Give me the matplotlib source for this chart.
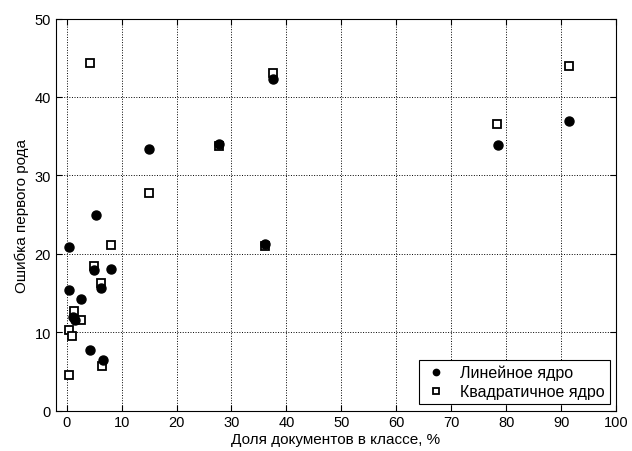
import numpy as np
import matplotlib
matplotlib.use('Agg')
import matplotlib.pyplot as plt

plt.rcParams['font.family'] = ['Liberation Sans', 'DejaVu Sans']

# linear kernel: share of documents in class (%), type I error
lin_x = [0.4, 0.4, 2.6, 1.2, 1.6, 4.2, 6.6, 8.1, 6.25, 4.9, 5.3, 15.0, 27.8, 37.6, 36.1, 78.5, 91.4]
lin_y = [20.9, 15.4, 14.2, 11.9, 11.6, 7.7, 6.4, 18.1, 15.6, 17.9, 24.9, 33.4, 34.0, 42.3, 21.2, 33.9, 36.9]

# quadratic kernel
quad_x = [5.0, 6.2, 8.1, 1.4, 2.6, 0.4, 0.9, 6.5, 0.4, 4.2, 15.0, 27.8, 37.6, 36.1, 78.4, 91.4]
quad_y = [18.5, 16.3, 21.1, 12.7, 11.6, 10.3, 9.55, 5.7, 4.5, 44.4, 27.8, 33.8, 43.1, 21.0, 36.6, 44.0]

xticks = np.arange(0, 101, 10)
yticks = np.arange(0, 51, 10)

fig = plt.figure(figsize=(6.32, 4.52), dpi=100)
ax = fig.add_axes([0.088, 0.0896, 0.887, 0.867])

ax.plot(quad_x, quad_y, 's', markerfacecolor='white', markeredgecolor='black',
        markeredgewidth=1.3, markersize=5.5, linestyle='none',
        label='Квадратичное ядро', zorder=3)
ax.plot(lin_x, lin_y, 'o', color='black', markersize=6.5, linestyle='none',
        label='Линейное ядро', zorder=4)

ax.set_xlim(-2, 100)
ax.set_ylim(0, 50)
ax.set_xticks(xticks)
ax.set_yticks(yticks)
ax.grid(True, color='black', linestyle=':', linewidth=0.7)
ax.tick_params(direction='in', top=True, right=True, labelsize=10.5, length=4)
for s in ax.spines.values():
    s.set_linewidth(0.8)

ax.set_xlabel('Доля документов в классе, %', fontsize=11, labelpad=2)
ax.set_ylabel('Ошибка первого рода', fontsize=11, labelpad=4)

handles, labels = ax.get_legend_handles_labels()
leg = ax.legend(handles[::-1], labels[::-1], loc='lower right', fontsize=11.5,
                fancybox=False, framealpha=1, edgecolor='black',
                borderaxespad=0.4, handletextpad=0.7, handlelength=1.6,
                borderpad=0.3, labelspacing=0.25, markerscale=0.7)
leg.get_frame().set_linewidth(0.8)

fig.savefig('out.png', dpi=100)
